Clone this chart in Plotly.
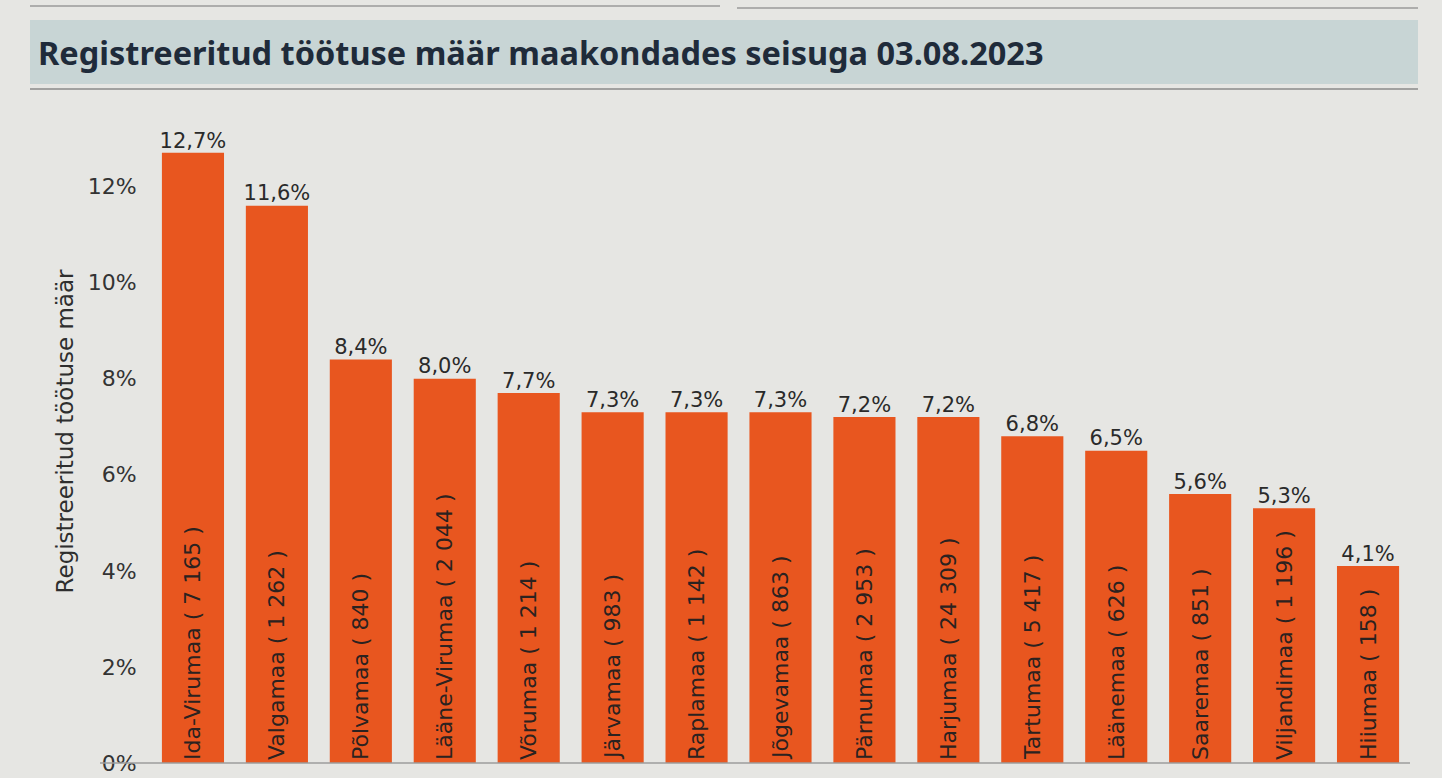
import plotly.graph_objects as go

counties = ["Ida-Virumaa", "Valgamaa", "Põlvamaa", "Lääne-Virumaa", "Võrumaa",
            "Järvamaa", "Raplamaa", "Jõgevamaa", "Pärnumaa", "Harjumaa",
            "Tartumaa", "Läänemaa", "Saaremaa", "Viljandimaa", "Hiiumaa"]
rates = [12.7, 11.6, 8.4, 8.0, 7.7, 7.3, 7.3, 7.3, 7.2, 7.2, 6.8, 6.5, 5.6, 5.3, 4.1]
counts = [7165, 1262, 840, 2044, 1214, 983, 1142, 863, 2953, 24309, 5417, 626, 851, 1196, 158]
ytick_vals = [0, 2, 4, 6, 8, 10, 12]
ytick_text = [f"{v}%" for v in ytick_vals]

title_text = "Registreeritud töötuse määr maakondades seisuga 03.08.2023"
yaxis_title = "Registreeritud töötuse määr"


def fmt_count(n):
    return f"{n:,}".replace(",", " ")


inside_labels = [f"{c} ( {fmt_count(n)} )" for c, n in zip(counties, counts)]

W, H = 1442, 778
L, R, T, B = 151, 32, 100, 15
pw, ph = W - L - R, H - T - B


def px_x(x):
    return (x - L) / pw


def px_y(y):
    return (H - B - y) / ph


fig = go.Figure()
fig.add_trace(go.Bar(
    x=counties, y=rates,
    marker=dict(color="#e8561f", line=dict(width=0)),
    text=inside_labels, textposition="inside", insidetextanchor="start",
    textangle=-90, constraintext="none",
    insidetextfont=dict(family="DejaVu Sans", size=22, color="#2b2220"),
    hoverinfo="skip",
))
fig.add_trace(go.Scatter(
    x=counties, y=rates, mode="text",
    texttemplate="%{y:.1f}%", textposition="top center",
    textfont=dict(family="DejaVu Sans", size=21, color="#2a2a2a"),
    hoverinfo="skip", showlegend=False,
))

shapes = [
    dict(type="rect", xref="paper", yref="paper",
         x0=px_x(30), x1=px_x(1418), y0=px_y(84), y1=px_y(20),
         fillcolor="#c8d5d5", line=dict(width=0), layer="below"),
    dict(type="line", xref="paper", yref="paper",
         x0=px_x(30), x1=px_x(1418), y0=px_y(89), y1=px_y(89),
         line=dict(color="#8a8a8a", width=1.5)),
    dict(type="line", xref="paper", yref="paper",
         x0=px_x(30), x1=px_x(720), y0=px_y(6), y1=px_y(6),
         line=dict(color="#9a9a9a", width=1.5)),
    dict(type="line", xref="paper", yref="paper",
         x0=px_x(737), x1=px_x(1418), y0=px_y(8), y1=px_y(8),
         line=dict(color="#9a9a9a", width=1.5)),
    dict(type="line", xref="paper", yref="paper",
         x0=px_x(100), x1=1.0, y0=0, y1=0,
         line=dict(color="#9c9c9c", width=1.5)),
]

fig.update_layout(
    width=W, height=H,
    margin=dict(l=L, r=R, t=T, b=B, autoexpand=False),
    paper_bgcolor="#e6e6e3", plot_bgcolor="#e6e6e3",
    separators=", ",
    showlegend=False,
    bargap=0.26,
    shapes=shapes,
    annotations=[dict(
        text=f"<b>{title_text}</b>", xref="paper", yref="paper",
        x=px_x(36), y=px_y(52), xanchor="left", yanchor="middle",
        showarrow=False,
        font=dict(family="Noto Sans", size=32.5, color="#1f2b3a"),
    )],
    xaxis=dict(showticklabels=False, showgrid=False, zeroline=False, automargin=False,
               showline=False, fixedrange=True, range=[-0.5, len(counties) - 0.5]),
    yaxis=dict(range=[0, 13.8], tickmode="array", tickvals=ytick_vals, ticktext=ytick_text,
               showgrid=False, zeroline=False, showline=False, automargin=False,
               ticks="outside", ticklen=9, tickcolor="rgba(0,0,0,0)",
               tickfont=dict(family="DejaVu Sans", size=22, color="#333333"),
               title=dict(text=yaxis_title, standoff=7,
                          font=dict(family="DejaVu Sans", size=23, color="#2e2e2e"))),
    font=dict(family="DejaVu Sans"),
)

fig.write_html("out.html", config={"displayModeBar": False},
               post_script="document.body.style.margin='0';document.body.style.overflow='hidden';")
